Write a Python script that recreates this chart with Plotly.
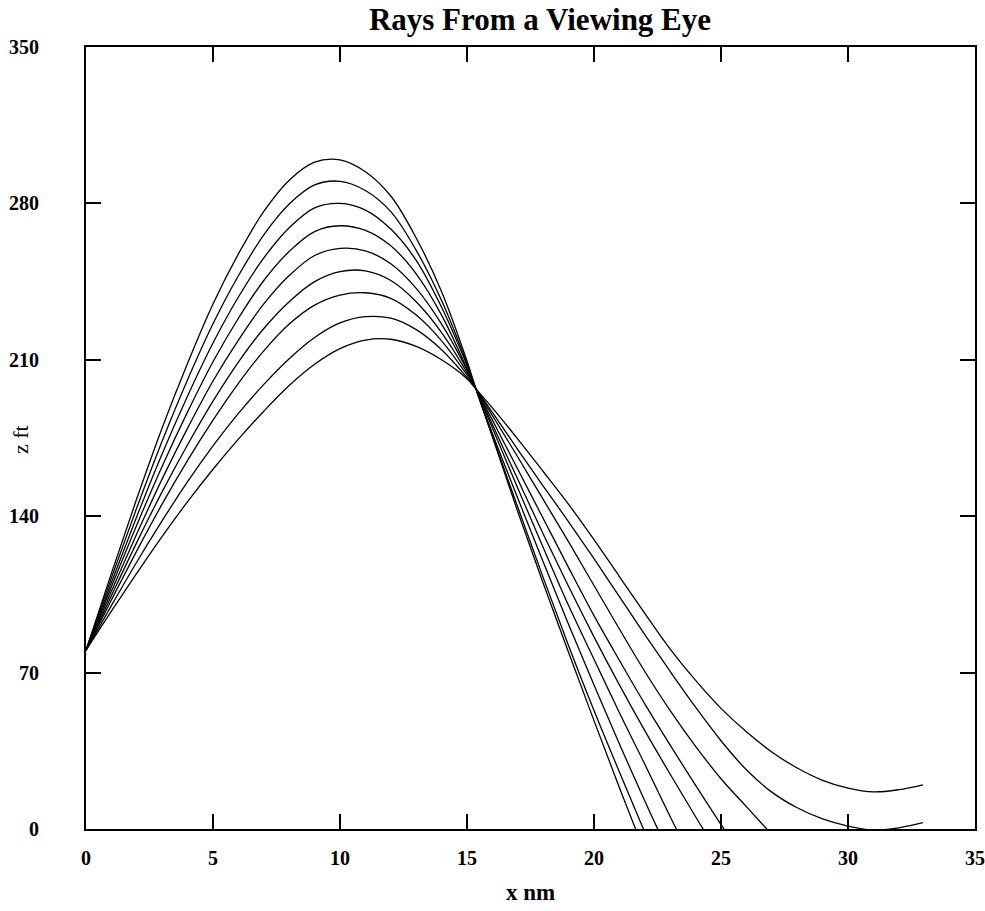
import plotly.graph_objects as go

# Shared horizontal grid (x, nautical miles); each ray uses the first len(z) points
x_grid = [0, 1, 2, 3, 4, 5, 6, 7, 8, 9, 10, 11, 12, 13, 14, 15, 15.35,
          16, 17, 18, 19, 20, 21, 22, 23, 24, 25, 26, 27, 28, 29, 30, 31, 32]
x_tail_end = 32.95

# Ray heights (z, feet), highest-peaking ray first
ray1 = [80, 114.4, 147.9, 179.6, 208.5, 235, 257.4, 276.4, 290.4, 298.5, 299.5, 294.2, 283.3,
        264.5, 240.5, 209.5, 197, 175.5, 142, 110, 79, 48.5, 18.5, -10.5]
ray2 = [80, 112.4, 143.8, 173.7, 201.1, 226.1, 247.6, 265.9, 279.7, 288.3, 289.9, 285.8, 276.3,
        259, 236.5, 208.3, 197, 176, 144, 112.5, 82, 53, 25.5, -1.5]
ray3 = [80, 110.3, 139.9, 168, 193.8, 217.5, 238.1, 255.6, 269.1, 278, 280, 277, 268.5,
        254.5, 233.5, 207.5, 197, 177, 148, 119.5, 91.5, 64.5, 38, 12.5, -12]
ray4 = [80, 108.4, 136.1, 162.4, 186.7, 209.1, 228.6, 245.5, 258.5, 267.4, 270, 267.9, 261,
        248.5, 230, 206, 197, 179.5, 152.5, 126, 100, 76, 52, 29, 5.5, -17]
ray5 = [80, 106.4, 132.1, 156.7, 179.4, 200.5, 218.8, 235, 247.7, 256.7, 259.9, 258.8, 253,
        242, 226, 205.5, 197, 181, 156.5, 132, 108.5, 86, 64.5, 44, 24.5, 5.5, -13]
ray6 = [80, 104.4, 128.3, 151, 172, 191.5, 209, 224, 236, 245, 249.5, 249.8, 245.5,
        236, 222.2, 204.3, 197, 183, 161, 139, 117, 95.5, 75.5, 56, 37.5, 19.5, 2, -15]
ray7 = [80, 102.5, 124.5, 145.5, 165, 183, 199.5, 214, 226, 234.5, 239, 240, 237.5,
        230, 218.5, 203.2, 197, 185, 166.5, 147.5, 128.5, 109, 89.5, 70.5, 53, 37, 22.5, 10, -2.5]
ray8 = [80, 100, 119.5, 138, 155.5, 171.5, 186, 199, 210.5, 220, 226.5, 229.3, 228.6,
        223.5, 214.5, 202, 197, 186.5, 169.8, 153.5, 137.5, 121, 104, 87, 70.5, 54.5, 39.5,
        26.5, 16.5, 9.5, 4.5, 1.3, -0.5, 0.5, 2.8]
ray9 = [80, 97.5, 114.5, 131, 146.5, 161, 174.5, 187, 198.5, 208, 215, 218.8, 219.2,
        216, 210, 201.5, 197, 188.5, 174.5, 160, 145.3, 129.5, 113, 96.5, 80.5, 66.5, 54,
        43.5, 34.5, 27.3, 21.8, 18.3, 16.6, 17.6, 19.8]

rays = [ray1, ray2, ray3, ray4, ray5, ray6, ray7, ray8, ray9]

x_ticks = [0, 5, 10, 15, 20, 25, 30, 35]
y_ticks = [0, 70, 140, 210, 280, 350]

SERIF = "Liberation Serif, Times New Roman, serif"

W, H = 985, 911
ML, MR, MT, MB = 86, 10, 47, 82
PW = W - ML - MR
PH = H - MT - MB

fig = go.Figure()
full_x = x_grid + [x_tail_end]
for z in rays:
    xs = full_x[:len(z)]
    fig.add_trace(go.Scatter(
        x=xs, y=z, mode="lines",
        line=dict(color="black", width=1.3, shape="spline", smoothing=1.0),
        showlegend=False, hoverinfo="skip"))

axis_common = dict(
    showgrid=False, zeroline=False, showline=True, linecolor="black", linewidth=2,
    ticks="inside", ticklen=15, tickwidth=2, tickcolor="black", mirror="ticks",
    automargin=False, ticklabeloverflow="allow",
    tickfont=dict(family=SERIF, size=20, color="black", weight="bold"),
)

fig.update_layout(
    width=W, height=H,
    margin=dict(l=ML, r=MR, t=MT, b=MB),
    paper_bgcolor="white", plot_bgcolor="white",
    title=dict(text="Rays From a Viewing Eye", x=(540 - ML) / PW, xref="paper", xanchor="center",
               y=1 - 19 / H, yref="container", yanchor="middle",
               font=dict(family=SERIF, size=31, color="black", weight="bold")),
    xaxis=dict(range=[0, 35], tickvals=x_ticks, ticklabelstandoff=10, **axis_common,
               title=dict(text="x nm", standoff=16,
                          font=dict(family=SERIF, size=23, color="black", weight="bold"))),
    yaxis=dict(range=[0, 350], tickvals=y_ticks, ticklabelstandoff=41, **axis_common),
    annotations=[dict(text="z ft", xref="paper", yref="paper",
                      x=(21 - ML) / PW, y=(H - MB - 440) / PH,
                      xanchor="center", yanchor="middle", textangle=-90, showarrow=False,
                      font=dict(family=SERIF, size=22, color="black"))],
)

fig.write_html("out.html", config={"displayModeBar": False},
               post_script="document.body.style.margin='0px';")
